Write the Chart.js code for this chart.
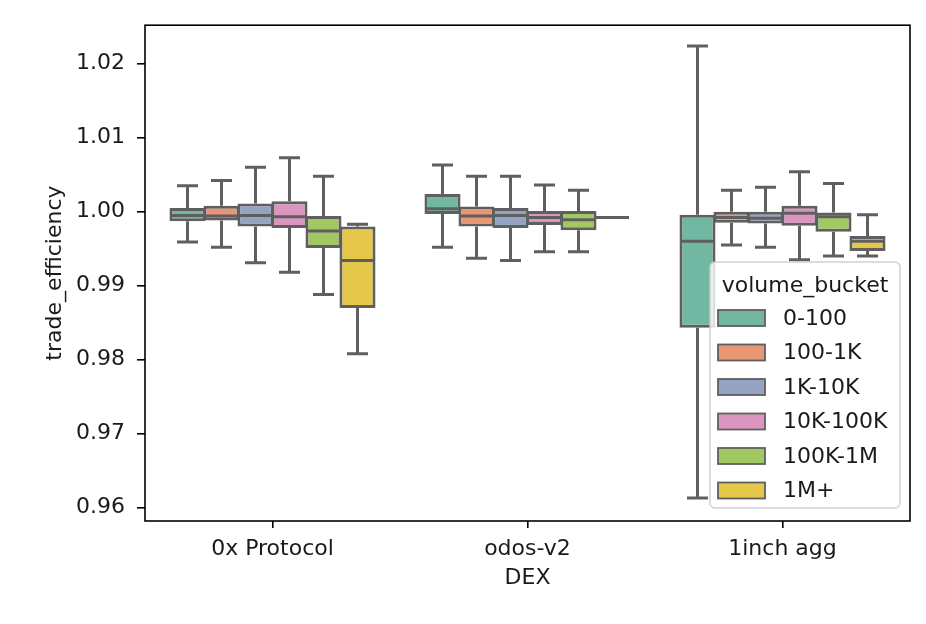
<!DOCTYPE html>
<html>
<head>
<meta charset="utf-8">
<script src="https://cdn.jsdelivr.net/npm/chart.js@4"></script>
<style>
  html, body { margin: 0; padding: 0; background: #fff; }
  #wrap { width: 926px; height: 624px; }
</style>
</head>
<body>
<div id="wrap"><canvas id="c" width="926" height="624"></canvas></div>
<script>
// ---- data ----
const categories = ['0x Protocol', 'odos-v2', '1inch agg'];
const buckets = ['0-100', '100-1K', '1K-10K', '10K-100K', '100K-1M', '1M+'];
const yTicks = [0.96, 0.97, 0.98, 0.99, 1.00, 1.01, 1.02];
// each row: [whiskerLow, q1, median, q3, whiskerHigh] per DEX
const stats_0_100    = [[0.9959, 0.9987, 0.9995, 1.0005, 1.0035], [0.9952, 0.9997, 1.0004, 1.0024, 1.0063], [0.9613, 0.9843, 0.9960, 0.9996, 1.0224]];
const stats_100_1K   = [[0.9952, 0.9988, 0.9994, 1.0008, 1.0042], [0.9937, 0.9980, 0.9994, 1.0007, 1.0048], [0.9955, 0.9985, 0.9992, 1.0000, 1.0029]];
const stats_1K_10K   = [[0.9931, 0.9980, 0.9995, 1.0011, 1.0060], [0.9934, 0.9978, 0.9995, 1.0005, 1.0048], [0.9952, 0.9984, 0.9991, 1.0000, 1.0033]];
const stats_10K_100K = [[0.9918, 0.9978, 0.9993, 1.0014, 1.0073], [0.9946, 0.9982, 0.9992, 1.0001, 1.0036], [0.9935, 0.9981, 0.9998, 1.0008, 1.0054]];
const stats_100K_1M  = [[0.9888, 0.9951, 0.9974, 0.9994, 1.0048], [0.9946, 0.9975, 0.9989, 1.0001, 1.0029], [0.9940, 0.9973, 0.9993, 0.9999, 1.0038]];
const stats_1M       = [[0.9808, 0.9870, 0.9934, 0.9980, 0.9983], [0.9992, 0.9992, 0.9992, 0.9992, 0.9992], [0.9940, 0.9947, 0.9960, 0.9967, 0.9996]];
const bucketStats = [stats_0_100, stats_100_1K, stats_1K_10K, stats_10K_100K, stats_100K_1M, stats_1M];
const colors = ['#72b7a1', '#e99675', '#95a3c3', '#db96c0', '#a2c864', '#e5c849'];

const LINE = '#5f5f5f';
const FONT = 'DejaVu Sans';
const FS = 22;
const TEXT = '#1a1a1a';

const datasets = buckets.map((b, i) => ({
  label: b,
  data: bucketStats[i].map(s => [s[1], s[3]]),
  backgroundColor: colors[i],
  borderColor: LINE,
  borderWidth: 3,
  borderSkipped: false,
  barPercentage: 1.06,
  categoryPercentage: 0.8
}));

const boxPlugin = {
  id: 'boxparts',
  beforeDatasetsDraw(chart) {
    const ctx = chart.ctx, y = chart.scales.y;
    ctx.save();
    ctx.strokeStyle = LINE; ctx.lineWidth = 3; ctx.lineCap = 'butt';
    bucketStats.forEach((st, i) => {
      chart.getDatasetMeta(i).data.forEach((el, j) => {
        const {x, width} = el.getProps(['x', 'width'], true);
        const s = st[j];
        const cw = width * 0.25 + 1.5;
        ctx.beginPath();
        ctx.moveTo(x, y.getPixelForValue(s[3])); ctx.lineTo(x, y.getPixelForValue(s[4]));
        ctx.moveTo(x, y.getPixelForValue(s[1])); ctx.lineTo(x, y.getPixelForValue(s[0]));
        ctx.moveTo(x - cw, y.getPixelForValue(s[4])); ctx.lineTo(x + cw, y.getPixelForValue(s[4]));
        ctx.moveTo(x - cw, y.getPixelForValue(s[0])); ctx.lineTo(x + cw, y.getPixelForValue(s[0]));
        ctx.stroke();
      });
    });
    ctx.restore();
  },
  afterDatasetsDraw(chart) {
    const ctx = chart.ctx, y = chart.scales.y;
    ctx.save();
    ctx.strokeStyle = LINE; ctx.lineWidth = 3;
    bucketStats.forEach((st, i) => {
      chart.getDatasetMeta(i).data.forEach((el, j) => {
        const {x, width} = el.getProps(['x', 'width'], true);
        const py = y.getPixelForValue(st[j][2]);
        ctx.beginPath();
        ctx.moveTo(x - width / 2 + 1.5, py); ctx.lineTo(x + width / 2 - 1.5, py);
        ctx.stroke();
      });
    });
    // axes frame
    const a = chart.chartArea;
    ctx.strokeStyle = '#000'; ctx.lineWidth = 1.6;
    ctx.strokeRect(a.left, a.top, a.right - a.left, a.bottom - a.top);
    ctx.restore();
  },
  afterDraw(chart) {
    const ctx = chart.ctx;
    ctx.save();
    const lx = 710, ly = 262, lw = 190, lh = 246, r = 5;
    ctx.beginPath();
    ctx.roundRect(lx, ly, lw, lh, r);
    ctx.fillStyle = 'rgba(255,255,255,0.8)';
    ctx.fill();
    ctx.strokeStyle = 'rgba(204,204,204,0.9)';
    ctx.lineWidth = 1.5;
    ctx.stroke();
    ctx.font = FS + 'px "' + FONT + '"';
    ctx.fillStyle = TEXT;
    ctx.textBaseline = 'middle';
    ctx.textAlign = 'center';
    ctx.fillText('volume_bucket', lx + lw / 2, 286);
    ctx.textAlign = 'left';
    buckets.forEach((b, i) => {
      const cy = 318 + i * 34.5;
      ctx.fillStyle = colors[i];
      ctx.fillRect(718, cy - 8, 47, 16);
      ctx.strokeStyle = LINE; ctx.lineWidth = 1.8;
      ctx.strokeRect(718, cy - 8, 47, 16);
      ctx.fillStyle = TEXT;
      ctx.fillText(b, 783, cy + 1);
    });
    ctx.restore();
  }
};

new Chart(document.getElementById('c'), {
  type: 'bar',
  data: { labels: categories, datasets },
  options: {
    responsive: false,
    devicePixelRatio: 1,
    animation: false,
    layout: { padding: { top: 24, right: 16, left: 0, bottom: 0 } },
    plugins: { legend: { display: false }, tooltip: { enabled: false } },
    scales: {
      x: {
        offset: true,
        grid: { display: true, offset: false, drawOnChartArea: false, drawTicks: true, tickLength: 7, color: '#000', lineWidth: 1.6 },
        border: { display: false },
        ticks: { font: { family: FONT, size: FS }, color: TEXT, padding: 8, maxRotation: 0 },
        title: { display: true, text: 'DEX', font: { family: FONT, size: FS }, color: TEXT, padding: { top: 0, bottom: 33 } },
        afterFit(s) { s.height = 103; }
      },
      y: {
        min: 0.9582, max: 1.0252,
        afterBuildTicks(s) { s.ticks = yTicks.map(v => ({ value: v })); },
        grid: { display: true, drawOnChartArea: false, drawTicks: true, tickLength: 8, color: '#000', lineWidth: 1.6 },
        border: { display: false },
        ticks: { font: { family: FONT, size: FS }, color: TEXT, padding: 12, callback: v => Number(v).toFixed(2) },
        title: { display: true, text: 'trade_efficiency', font: { family: FONT, size: FS }, color: TEXT, padding: { top: 42, bottom: 0 } },
        afterFit(s) { s.width = 145; }
      }
    }
  },
  plugins: [boxPlugin]
});
</script>
</body>
</html>
